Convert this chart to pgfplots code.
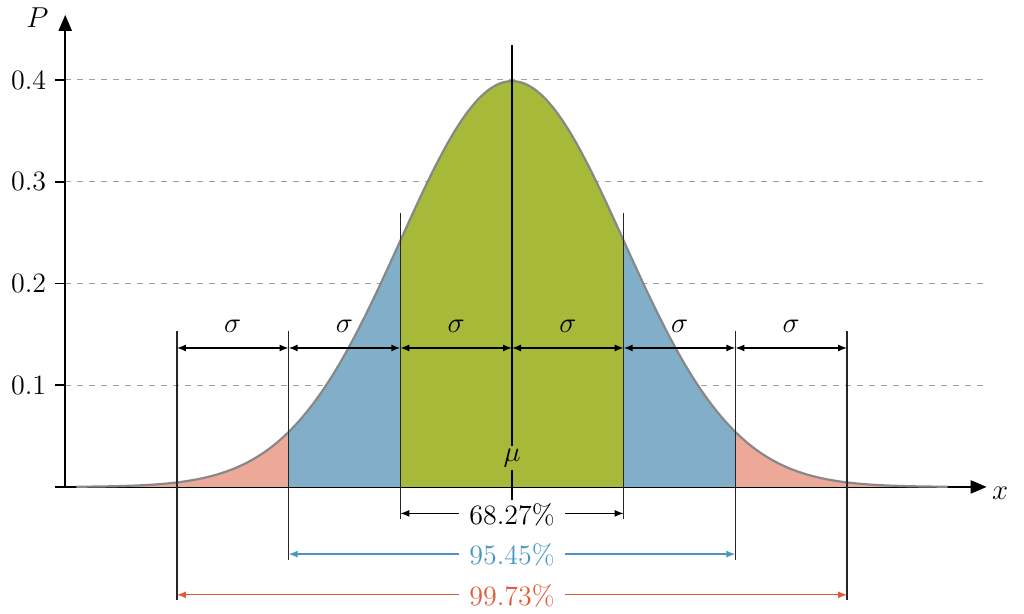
\documentclass[border=0pt]{standalone}
\usepackage{pgfplots}
\usepackage{pgfplotstable}
\pgfplotsset{compat=1.18}
\usetikzlibrary{arrows.meta}
\definecolor{gfill}{HTML}{A6B938}
\definecolor{bfill}{HTML}{81AFC9}
\definecolor{rfill}{HTML}{EDA998}
\definecolor{btext}{HTML}{4A96C2}
\definecolor{rtext}{HTML}{E45A37}
\definecolor{curvegray}{HTML}{888888}
\pgfplotstableread{
x y
-3.9 0.00020
-3.8 0.00029
-3.7 0.00042
-3.6 0.00061
-3.5 0.00087
-3.4 0.00123
-3.3 0.00172
-3.2 0.00238
-3.1 0.00327
-3.0 0.00443
-2.9 0.00595
-2.8 0.00792
-2.7 0.01042
-2.6 0.01358
-2.5 0.01753
-2.4 0.02239
-2.3 0.02833
-2.2 0.03547
-2.1 0.04398
-2.0 0.05399
-1.9 0.06562
-1.8 0.07895
-1.7 0.09405
-1.6 0.11092
-1.5 0.12952
-1.4 0.14973
-1.3 0.17137
-1.2 0.19419
-1.1 0.21785
-1.0 0.24197
-0.9 0.26609
-0.8 0.28969
-0.7 0.31225
-0.6 0.33322
-0.5 0.35207
-0.4 0.36827
-0.3 0.38139
-0.2 0.39104
-0.1 0.39695
0.0 0.39894
0.1 0.39695
0.2 0.39104
0.3 0.38139
0.4 0.36827
0.5 0.35207
0.6 0.33322
0.7 0.31225
0.8 0.28969
0.9 0.26609
1.0 0.24197
1.1 0.21785
1.2 0.19419
1.3 0.17137
1.4 0.14973
1.5 0.12952
1.6 0.11092
1.7 0.09405
1.8 0.07895
1.9 0.06562
2.0 0.05399
2.1 0.04398
2.2 0.03547
2.3 0.02833
2.4 0.02239
2.5 0.01753
2.6 0.01358
2.7 0.01042
2.8 0.00792
2.9 0.00595
3.0 0.00443
3.1 0.00327
3.2 0.00238
3.3 0.00172
3.4 0.00123
3.5 0.00087
3.6 0.00061
3.7 0.00042
3.8 0.00029
3.9 0.00020
}\curve
\newcommand{\bigf}{\fontsize{14}{17}\selectfont}
\begin{document}
\begin{tikzpicture}[>={Latex[length=4.5pt,width=3.5pt]}]
\begin{axis}[
  x=55.85pt, y=508.75pt,
  xmin=-4, xmax=4.25, ymin=0, ymax=0.464,
  axis lines=left,
  axis line style={line width=1pt, -{Triangle[length=8pt,width=6.5pt]}},
  xtick=\empty,
  ytick={0,0.1,0.2,0.3,0.4},
  yticklabels={,0.1,0.2,0.3,0.4},
  tick align=outside, major tick length=5pt,
  tick style={black, line width=0.8pt},
  ymajorgrids, grid style={dashed, gray!75, line width=0.5pt},
  clip=false,
  yticklabel style={font=\bigf, xshift=-1pt},
]
\path (axis cs:-4.584,-0.1248) rectangle (axis cs:4.584,0.4786);
\addplot[draw=none, fill=rfill, restrict x to domain=-3.9:-2] table {\curve} \closedcycle;
\addplot[draw=none, fill=rfill, restrict x to domain=2:3.9] table {\curve} \closedcycle;
\addplot[draw=none, fill=bfill, restrict x to domain=-2:-1] table {\curve} \closedcycle;
\addplot[draw=none, fill=bfill, restrict x to domain=1:2] table {\curve} \closedcycle;
\addplot[draw=none, fill=gfill, restrict x to domain=-1:1] table {\curve} \closedcycle;
\addplot[curvegray, line width=1.1pt, smooth] table {\curve};
% vertical guide lines
\draw[line width=1pt] (axis cs:0,-0.013) -- (axis cs:0,0.434);
\draw[line width=0.7pt, black!85] (axis cs:-1,-0.032) -- (axis cs:-1,0.269);
\draw[line width=0.7pt, black!85] (axis cs:1,-0.032) -- (axis cs:1,0.269);
\draw[line width=0.7pt, black!85] (axis cs:-2,-0.072) -- (axis cs:-2,0.153);
\draw[line width=0.7pt, black!85] (axis cs:2,-0.072) -- (axis cs:2,0.153);
\draw[line width=0.7pt, black!85] (axis cs:-3,-0.111) -- (axis cs:-3,0.153);
\draw[line width=0.7pt, black!85] (axis cs:3,-0.111) -- (axis cs:3,0.153);
% sigma arrows
\draw[<->, line width=0.7pt] (axis cs:-3,0.1366) -- (axis cs:-2,0.1366);
\draw[<->, line width=0.7pt] (axis cs:-2,0.1366) -- (axis cs:-1,0.1366);
\draw[<->, line width=0.7pt] (axis cs:-1,0.1366) -- (axis cs:0,0.1366);
\draw[<->, line width=0.7pt] (axis cs:0,0.1366) -- (axis cs:1,0.1366);
\draw[<->, line width=0.7pt] (axis cs:1,0.1366) -- (axis cs:2,0.1366);
\draw[<->, line width=0.7pt] (axis cs:2,0.1366) -- (axis cs:3,0.1366);
\node[font=\bigf] at (axis cs:-2.5,0.158) {$\sigma$};
\node[font=\bigf] at (axis cs:-1.5,0.158) {$\sigma$};
\node[font=\bigf] at (axis cs:-0.5,0.158) {$\sigma$};
\node[font=\bigf] at (axis cs:0.5,0.158) {$\sigma$};
\node[font=\bigf] at (axis cs:1.5,0.158) {$\sigma$};
\node[font=\bigf] at (axis cs:2.5,0.158) {$\sigma$};
\node[font=\bigf, fill=gfill, inner sep=1.5pt] at (axis cs:0,0.028) {$\mu$};
% percentage arrows
\draw[<->, line width=0.7pt] (axis cs:-1,-0.026) -- (axis cs:1,-0.026);
\node[font=\bigf, fill=white, inner xsep=5pt, inner ysep=1pt] at (axis cs:0,-0.027) {68.27\%};
\draw[<->, line width=0.7pt, btext] (axis cs:-2,-0.066) -- (axis cs:2,-0.066);
\node[font=\bigf, fill=white, text=btext, inner xsep=5pt, inner ysep=1pt] at (axis cs:0,-0.067) {95.45\%};
\draw[<->, line width=0.7pt, rtext] (axis cs:-3,-0.106) -- (axis cs:3,-0.106);
\node[font=\bigf, fill=white, text=rtext, inner xsep=5pt, inner ysep=1pt] at (axis cs:0,-0.107) {99.73\%};
% axis labels
\node[font=\bigf] at (axis cs:-4.25,0.461) {$P$};
\node[font=\bigf] at (axis cs:4.37,-0.006) {$x$};
\end{axis}
\end{tikzpicture}
\end{document}
